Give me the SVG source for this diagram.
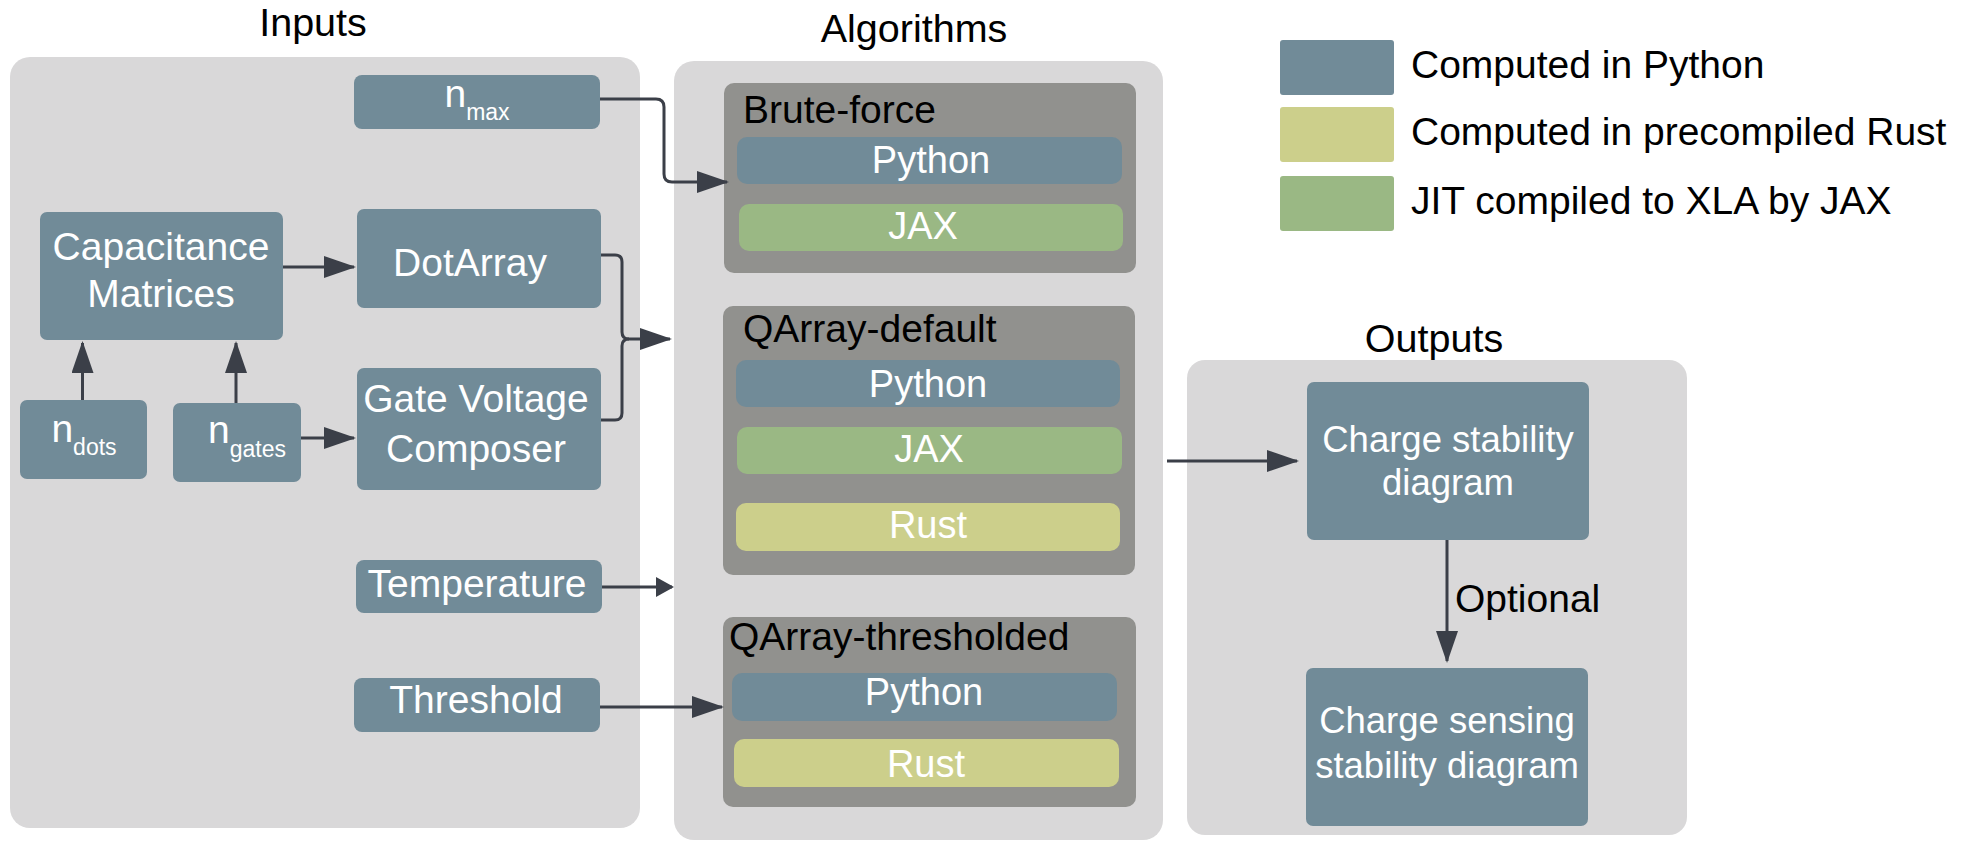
<svg xmlns="http://www.w3.org/2000/svg" width="1963" height="856" viewBox="0 0 1963 856">
<style>
text{font-family:"Liberation Sans",Arial,Helvetica,sans-serif}
.title{font-size:39.5px;fill:#000;text-anchor:middle}
.cont{fill:#d9d8d9}
.algo{fill:#91918e}
.py{fill:#718b98}
.jax{fill:#9ab884}
.rs{fill:#cccf8b}
.lbl{font-size:39px;fill:#fff;text-anchor:middle}
.bar{font-size:38px;fill:#fff;text-anchor:middle}
.blbl{font-size:39px;fill:#000}
.out{font-size:36.5px;fill:#fff;text-anchor:middle}
.leg{font-size:39px;fill:#000}
.conn{fill:none;stroke:#3b3f48;stroke-width:3}
</style>
<defs>
<marker id="arr" markerUnits="userSpaceOnUse" markerWidth="32" markerHeight="22" refX="30" refY="11" orient="auto">
<path d="M0,0 L32,11 L0,22 z" fill="#3b3f48"/>
</marker>
<marker id="arrs" markerUnits="userSpaceOnUse" markerWidth="18" markerHeight="20" refX="16" refY="10" orient="auto">
<path d="M0,0 L18,10 L0,20 z" fill="#3b3f48"/>
</marker>
</defs>
<rect width="1963" height="856" fill="#fff"/>

<g id="inputs-group">
<rect class="cont" x="10" y="57" width="630" height="771" rx="20"/>
<text class="title" x="313" y="36">Inputs</text>
</g>
<g id="algorithms-group">
<rect class="cont" x="674" y="61" width="489" height="779" rx="20"/>
<text class="title" x="914" y="42">Algorithms</text>
</g>
<g id="outputs-group">
<rect class="cont" x="1187" y="360" width="500" height="475" rx="18"/>
<text class="title" x="1434" y="352">Outputs</text>
</g>

<g id="node-nmax">
<rect class="py" x="354" y="75" width="246" height="54" rx="8"/>
<text class="lbl" x="477" y="107" font-size="38">n<tspan font-size="23" dy="13">max</tspan></text>
</g>
<g id="node-capacitance">
<rect class="py" x="40" y="212" width="243" height="128" rx="7"/>
<text class="lbl" x="161" y="260">Capacitance</text>
<text class="lbl" x="161" y="307">Matrices</text>
</g>
<g id="node-dotarray">
<rect class="py" x="357" y="209" width="244" height="99" rx="7"/>
<text class="lbl" x="470" y="276">DotArray</text>
</g>
<g id="node-ndots">
<rect class="py" x="20" y="400" width="127" height="79" rx="7"/>
<text class="lbl" x="84" y="442" font-size="38">n<tspan font-size="23" dy="13">dots</tspan></text>
</g>
<g id="node-ngates">
<rect class="py" x="173" y="403" width="128" height="79" rx="7"/>
<text class="lbl" x="247" y="443" font-size="38">n<tspan font-size="23" dy="14">gates</tspan></text>
</g>
<g id="node-gatevoltage">
<rect class="py" x="357" y="368" width="244" height="122" rx="7"/>
<text class="lbl" x="476" y="412">Gate Voltage</text>
<text class="lbl" x="476" y="462">Composer</text>
</g>
<g id="node-temperature">
<rect class="py" x="356" y="560" width="246" height="53" rx="8"/>
<text class="lbl" x="477" y="597">Temperature</text>
</g>
<g id="node-threshold">
<rect class="py" x="354" y="678" width="246" height="54" rx="8"/>
<text class="lbl" x="476" y="713">Threshold</text>
</g>

<g id="node-bruteforce">
<rect class="algo" x="724" y="83" width="412" height="190" rx="10"/>
<text class="blbl" x="743" y="123">Brute-force</text>
<rect class="py" x="737" y="137" width="385" height="47" rx="10"/>
<text class="bar" x="931" y="173">Python</text>
<rect class="jax" x="739" y="204" width="384" height="47" rx="10"/>
<text class="bar" x="923" y="239">JAX</text>
</g>
<g id="node-qarray-default">
<rect class="algo" x="723" y="306" width="412" height="269" rx="10"/>
<text class="blbl" x="743" y="342">QArray-default</text>
<rect class="py" x="736" y="360" width="384" height="47" rx="10"/>
<text class="bar" x="928" y="397">Python</text>
<rect class="jax" x="737" y="427" width="385" height="47" rx="10"/>
<text class="bar" x="929" y="462">JAX</text>
<rect class="rs" x="736" y="503" width="384" height="48" rx="10"/>
<text class="bar" x="928" y="538">Rust</text>
</g>
<g id="node-qarray-thresholded">
<rect class="algo" x="723" y="617" width="413" height="190" rx="10"/>
<text class="blbl" x="729" y="650">QArray-thresholded</text>
<rect class="py" x="732" y="673" width="385" height="48" rx="10"/>
<text class="bar" x="924" y="705">Python</text>
<rect class="rs" x="734" y="739" width="385" height="48" rx="10"/>
<text class="bar" x="926" y="777">Rust</text>
</g>

<g id="node-chargestability">
<rect class="py" x="1307" y="382" width="282" height="158" rx="7"/>
<text class="out" x="1448" y="452">Charge stability</text>
<text class="out" x="1448" y="495">diagram</text>
</g>
<g id="node-chargesensing">
<rect class="py" x="1306" y="668" width="282" height="158" rx="7"/>
<text class="out" x="1447" y="733">Charge sensing</text>
<text class="out" x="1447" y="778">stability diagram</text>
</g>

<g id="legend">
<rect class="py" x="1280" y="40" width="114" height="55" rx="3"/>
<text class="leg" x="1411" y="78">Computed in Python</text>
<rect class="rs" x="1280" y="107" width="114" height="55" rx="3"/>
<text class="leg" x="1411" y="145">Computed in precompiled Rust</text>
<rect class="jax" x="1280" y="176" width="114" height="55" rx="3"/>
<text class="leg" x="1411" y="214">JIT compiled to XLA by JAX</text>
</g>

<g id="connectors">
<path class="conn" d="M600,99 H656 Q664,99 664,107 V174 Q664,182 672,182 H727" marker-end="url(#arr)"/>
<path class="conn" d="M283,267 H354" marker-end="url(#arr)"/>
<path class="conn" d="M82.5,400 V343" marker-end="url(#arr)"/>
<path class="conn" d="M236,403 V343" marker-end="url(#arr)"/>
<path class="conn" d="M301,438 H354" marker-end="url(#arr)"/>
<path class="conn" d="M601,255 H615 Q622,255 622,262 V332 Q622,339 629,339 H670" marker-end="url(#arr)"/>
<path class="conn" d="M601,420 H615 Q622,420 622,413 V346 Q622,339 629,339"/>
<path class="conn" d="M602,587 H672" marker-end="url(#arrs)"/>
<path class="conn" d="M600,707 H722" marker-end="url(#arr)"/>
<path class="conn" d="M1167,461 H1297" marker-end="url(#arr)"/>
<path class="conn" d="M1447,540 V661" marker-end="url(#arr)"/>
<text class="blbl" x="1455" y="612">Optional</text>
</g>
</svg>
